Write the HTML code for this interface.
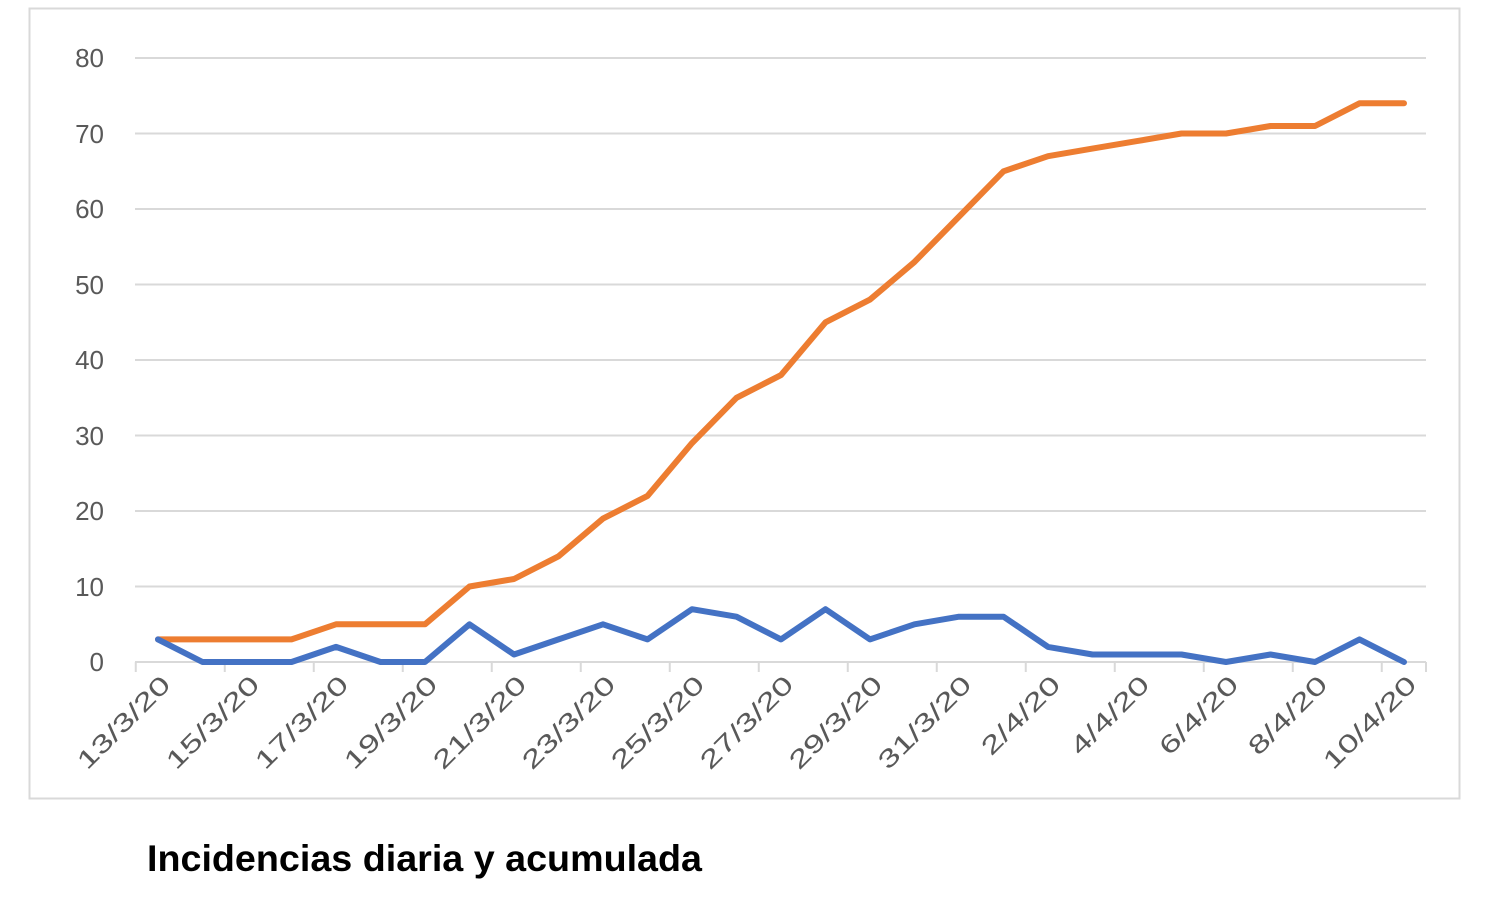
<!DOCTYPE html>
<html><head><meta charset="utf-8"><style>
body{margin:0;background:#fff;width:1486px;height:916px;overflow:hidden;font-family:"Liberation Sans",sans-serif}
</style></head><body>
<svg width="1486" height="916" xmlns="http://www.w3.org/2000/svg" font-family="Liberation Sans, sans-serif">
<rect x="29.5" y="8.5" width="1430" height="790" fill="#fff" stroke="#d9d9d9" stroke-width="2"/>
<g stroke="#d9d9d9" stroke-width="2">
<line x1="135" y1="58" x2="1426" y2="58"/>
<line x1="135" y1="133.5" x2="1426" y2="133.5"/>
<line x1="135" y1="209" x2="1426" y2="209"/>
<line x1="135" y1="284.5" x2="1426" y2="284.5"/>
<line x1="135" y1="360" x2="1426" y2="360"/>
<line x1="135" y1="435.5" x2="1426" y2="435.5"/>
<line x1="135" y1="511" x2="1426" y2="511"/>
<line x1="135" y1="586.5" x2="1426" y2="586.5"/>
<line x1="135" y1="662" x2="1426" y2="662"/>
</g>
<g stroke="#d9d9d9" stroke-width="2">
<line x1="135.75" y1="662" x2="135.75" y2="672"/><line x1="224.75" y1="662" x2="224.75" y2="672"/><line x1="313.75" y1="662" x2="313.75" y2="672"/><line x1="402.75" y1="662" x2="402.75" y2="672"/><line x1="491.75" y1="662" x2="491.75" y2="672"/><line x1="580.75" y1="662" x2="580.75" y2="672"/><line x1="669.75" y1="662" x2="669.75" y2="672"/><line x1="758.75" y1="662" x2="758.75" y2="672"/><line x1="847.75" y1="662" x2="847.75" y2="672"/><line x1="936.75" y1="662" x2="936.75" y2="672"/><line x1="1025.75" y1="662" x2="1025.75" y2="672"/><line x1="1114.75" y1="662" x2="1114.75" y2="672"/><line x1="1203.75" y1="662" x2="1203.75" y2="672"/><line x1="1292.75" y1="662" x2="1292.75" y2="672"/><line x1="1381.75" y1="662" x2="1381.75" y2="672"/><line x1="1426" y1="662" x2="1426" y2="672"/>
</g>
<g fill="#595959" font-size="26" text-anchor="end">
<text x="104" y="67">80</text><text x="104" y="143">70</text><text x="104" y="218">60</text><text x="104" y="294">50</text><text x="104" y="369">40</text><text x="104" y="445">30</text><text x="104" y="520">20</text><text x="104" y="596">10</text><text x="104" y="671">0</text>
</g>
<g fill="#595959" font-size="25" text-anchor="end" lengthAdjust="spacingAndGlyphs">
<text transform="translate(172,686) rotate(-45)" textLength="120" lengthAdjust="spacingAndGlyphs">13/3/20</text>
<text transform="translate(261,686) rotate(-45)" textLength="120" lengthAdjust="spacingAndGlyphs">15/3/20</text>
<text transform="translate(350,686) rotate(-45)" textLength="120" lengthAdjust="spacingAndGlyphs">17/3/20</text>
<text transform="translate(439,686) rotate(-45)" textLength="120" lengthAdjust="spacingAndGlyphs">19/3/20</text>
<text transform="translate(528,686) rotate(-45)" textLength="120" lengthAdjust="spacingAndGlyphs">21/3/20</text>
<text transform="translate(617,686) rotate(-45)" textLength="120" lengthAdjust="spacingAndGlyphs">23/3/20</text>
<text transform="translate(706,686) rotate(-45)" textLength="120" lengthAdjust="spacingAndGlyphs">25/3/20</text>
<text transform="translate(795,686) rotate(-45)" textLength="120" lengthAdjust="spacingAndGlyphs">27/3/20</text>
<text transform="translate(884,686) rotate(-45)" textLength="120" lengthAdjust="spacingAndGlyphs">29/3/20</text>
<text transform="translate(973,686) rotate(-45)" textLength="120" lengthAdjust="spacingAndGlyphs">31/3/20</text>
<text transform="translate(1062,686) rotate(-45)" textLength="100" lengthAdjust="spacingAndGlyphs">2/4/20</text>
<text transform="translate(1151,686) rotate(-45)" textLength="100" lengthAdjust="spacingAndGlyphs">4/4/20</text>
<text transform="translate(1240,686) rotate(-45)" textLength="100" lengthAdjust="spacingAndGlyphs">6/4/20</text>
<text transform="translate(1329,686) rotate(-45)" textLength="100" lengthAdjust="spacingAndGlyphs">8/4/20</text>
<text transform="translate(1418,686) rotate(-45)" textLength="120" lengthAdjust="spacingAndGlyphs">10/4/20</text>
</g>
<polyline fill="none" stroke="#ed7d31" stroke-width="6" stroke-linejoin="round" stroke-linecap="round" points="158,639.4 202.5,639.4 247,639.4 291.5,639.4 336,624.3 380.5,624.3 425,624.3 469.5,586.5 514,579 558.5,556.3 603,518.6 647.5,495.9 692,443.1 736.5,397.8 781,375.1 825.5,322.3 870,299.6 914.5,261.9 959,216.6 1003.5,171.3 1048,156.2 1092.5,148.6 1137,141.1 1181.5,133.5 1226,133.5 1270.5,126 1315,126 1359.5,103.3 1404,103.3"/>
<polyline fill="none" stroke="#4472c4" stroke-width="6" stroke-linejoin="round" stroke-linecap="round" points="158,639.4 202.5,662 247,662 291.5,662 336,646.9 380.5,662 425,662 469.5,624.3 514,654.5 558.5,639.4 603,624.3 647.5,639.4 692,609.2 736.5,616.7 781,639.4 825.5,609.2 870,639.4 914.5,624.3 959,616.7 1003.5,616.7 1048,646.9 1092.5,654.5 1137,654.5 1181.5,654.5 1226,662 1270.5,654.5 1315,662 1359.5,639.4 1404,662"/>
<text x="147" y="871" font-size="37" font-weight="bold" fill="#000" textLength="555" lengthAdjust="spacingAndGlyphs">Incidencias diaria y acumulada</text>
</svg>
</body></html>
